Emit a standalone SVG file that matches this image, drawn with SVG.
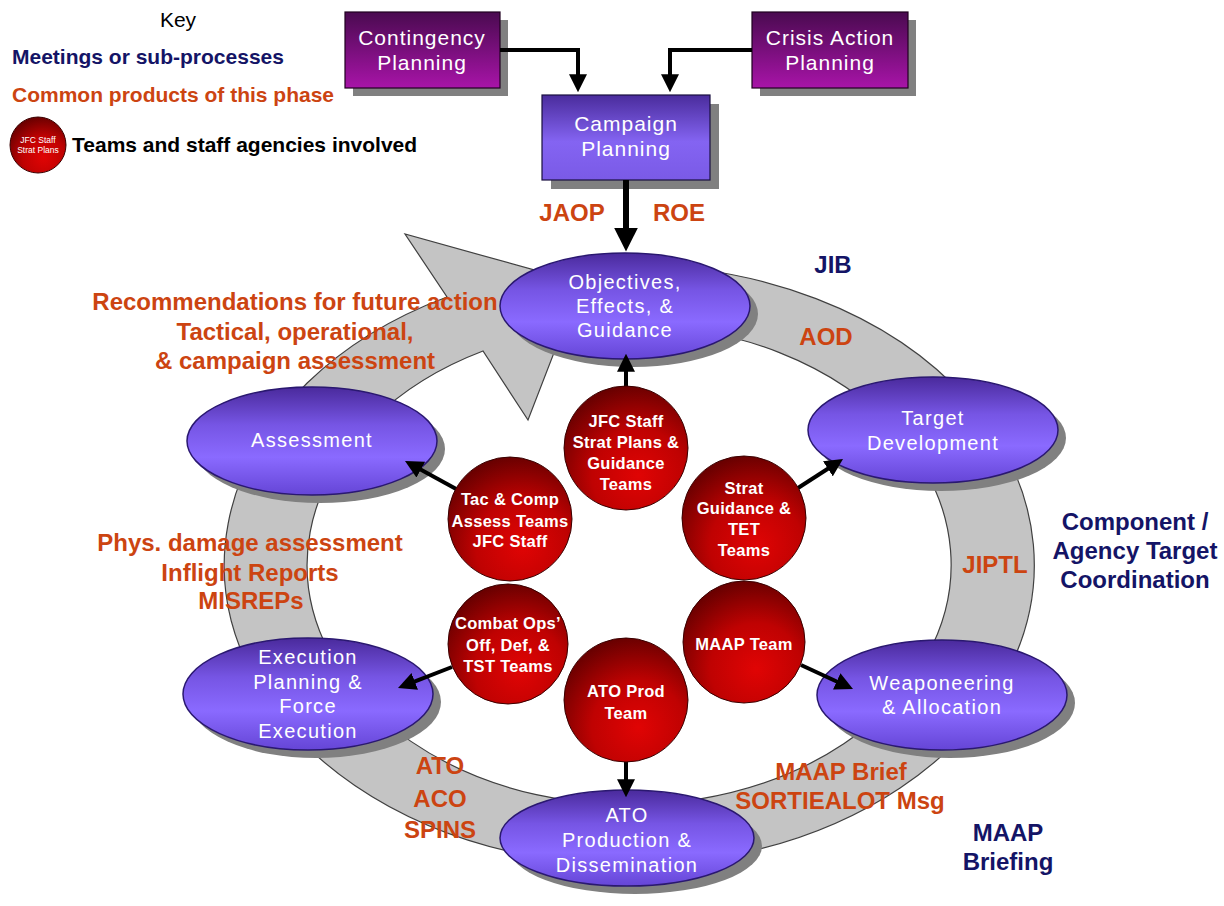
<svg xmlns="http://www.w3.org/2000/svg" width="1224" height="906" viewBox="0 0 1224 906">
<defs>
<linearGradient id="gEll" x1="0" y1="0" x2="0" y2="1">
<stop offset="0" stop-color="#4a2a9c"/><stop offset="0.35" stop-color="#7655e4"/><stop offset="0.65" stop-color="#8a6aff"/><stop offset="1" stop-color="#6545d6"/>
</linearGradient>
<linearGradient id="gMag" x1="0" y1="0" x2="0" y2="1">
<stop offset="0" stop-color="#4a0a50"/><stop offset="1" stop-color="#a814a8"/>
</linearGradient>
<linearGradient id="gCamp" x1="0" y1="0" x2="0" y2="1">
<stop offset="0" stop-color="#4a2c9c"/><stop offset="0.55" stop-color="#8464f2"/><stop offset="1" stop-color="#7a5ae6"/>
</linearGradient>
<radialGradient id="gRed" cx="0.6" cy="0.72" r="0.75">
<stop offset="0" stop-color="#e00404"/><stop offset="0.5" stop-color="#bf0202"/><stop offset="1" stop-color="#640000"/>
</radialGradient>
<marker id="ah" viewBox="0 0 10 10" refX="1" refY="5" markerWidth="4.5" markerHeight="4.5" orient="auto" markerUnits="strokeWidth">
<path d="M0,0 L10,5 L0,10 z" fill="#000"/>
</marker>
<marker id="ahb" viewBox="0 0 10 10" refX="1" refY="5" markerWidth="4" markerHeight="4" orient="auto" markerUnits="strokeWidth">
<path d="M0,0 L10,5 L0,10 z" fill="#000"/>
</marker>
<style>
.ell{fill:url(#gEll);stroke:#2a1870;stroke-width:1.5}
.shd{fill:#808080}
.red{fill:url(#gRed);stroke:#3a0000;stroke-width:1}
.et{font-family:"Liberation Sans",Arial,sans-serif;font-size:20px;letter-spacing:1.3px;fill:#fff;text-anchor:middle}
.rt{font-family:"Liberation Sans",Arial,sans-serif;font-size:21px;letter-spacing:1px;fill:#fff;text-anchor:middle}
.ct{font-family:"Liberation Sans",Arial,sans-serif;font-size:16.5px;font-weight:bold;letter-spacing:0.3px;fill:#fff;text-anchor:middle}
.lbl{font-family:"Liberation Sans",Arial,sans-serif;font-size:24px;font-weight:bold;text-anchor:middle}
.org{fill:#cc4411}
.nav{fill:#141466}
.key{font-family:"Liberation Sans",Arial,sans-serif;font-size:21px;font-weight:bold}
.conn{fill:none;stroke:#000;stroke-width:4}
</style>
</defs>
<rect width="1224" height="906" fill="#fff"/>

<g id="cycle-arrow">
<path d="M 447 297 A 405 300 0 1 0 640 265 L 640 325 A 322 240 0 1 1 483 351 L 528 420 L 581 283 L 405 234 Z" fill="#c4c4c4" stroke="#404040" stroke-width="1.2"/>
</g>

<g id="key">
<text x="178" y="27" font-family="'Liberation Sans',Arial,sans-serif" font-size="21" text-anchor="middle" fill="#000">Key</text>
<text class="key nav" x="12" y="64">Meetings or sub-processes</text>
<text class="key org" x="12" y="102">Common products of this phase</text>
<circle class="red" cx="38" cy="145" r="28"/>
<text x="38" y="143" font-family="'Liberation Sans',Arial,sans-serif" font-size="8.5" fill="#fff" text-anchor="middle">JFC Staff</text>
<text x="38" y="153" font-family="'Liberation Sans',Arial,sans-serif" font-size="8.5" fill="#fff" text-anchor="middle">Strat Plans</text>
<text class="key" x="72" y="152" fill="#000">Teams and staff agencies involved</text>
</g>

<g id="contingency-planning">
<rect x="353" y="20" width="155" height="76" class="shd"/>
<rect x="345" y="12" width="155" height="76" fill="url(#gMag)" stroke="#200020" stroke-width="1.2"/>
<text class="rt" x="422" y="45">Contingency</text>
<text class="rt" x="422" y="70">Planning</text>
</g>
<g id="crisis-action-planning">
<rect x="760" y="20" width="156" height="76" class="shd"/>
<rect x="752" y="12" width="156" height="76" fill="url(#gMag)" stroke="#200020" stroke-width="1.2"/>
<text class="rt" x="830" y="45">Crisis Action</text>
<text class="rt" x="830" y="70">Planning</text>
</g>
<g id="campaign-planning">
<rect x="551" y="104" width="168" height="85" class="shd"/>
<rect x="542" y="95" width="168" height="85" fill="url(#gCamp)" stroke="#1a1040" stroke-width="1.2"/>
<text class="rt" x="626" y="131">Campaign</text>
<text class="rt" x="626" y="156">Planning</text>
</g>

<g id="objectives">
<ellipse class="shd" cx="633" cy="314" rx="125" ry="53"/>
<ellipse class="ell" cx="625" cy="306" rx="125" ry="53"/>
<text class="et" x="625" y="289">Objectives,</text>
<text class="et" x="625" y="313">Effects, &amp;</text>
<text class="et" x="625" y="337">Guidance</text>
</g>
<g id="target-development">
<ellipse class="shd" cx="941" cy="438" rx="125" ry="53"/>
<ellipse class="ell" cx="933" cy="430" rx="125" ry="53"/>
<text class="et" x="933" y="425">Target</text>
<text class="et" x="933" y="450">Development</text>
</g>
<g id="weaponeering">
<ellipse class="shd" cx="950" cy="703" rx="125" ry="55"/>
<ellipse class="ell" cx="942" cy="695" rx="125" ry="55"/>
<text class="et" x="942" y="690">Weaponeering</text>
<text class="et" x="942" y="714">&amp; Allocation</text>
</g>
<g id="ato-production">
<ellipse class="shd" cx="635" cy="846" rx="127" ry="48"/>
<ellipse class="ell" cx="627" cy="838" rx="127" ry="48"/>
<text class="et" x="627" y="822">ATO</text>
<text class="et" x="627" y="847">Production &amp;</text>
<text class="et" x="627" y="872">Dissemination</text>
</g>
<g id="execution">
<ellipse class="shd" cx="316" cy="702" rx="125" ry="56"/>
<ellipse class="ell" cx="308" cy="694" rx="125" ry="56"/>
<text class="et" x="308" y="664">Execution</text>
<text class="et" x="308" y="689">Planning &amp;</text>
<text class="et" x="308" y="713">Force</text>
<text class="et" x="308" y="738">Execution</text>
</g>
<g id="assessment">
<ellipse class="shd" cx="320" cy="449" rx="125" ry="54"/>
<ellipse class="ell" cx="312" cy="441" rx="125" ry="54"/>
<text class="et" x="312" y="447">Assessment</text>
</g>

<g id="connectors">
<path class="conn" d="M 500 50 H 578 V 76" marker-end="url(#ah)"/>
<path class="conn" d="M 752 50 H 670 V 76" marker-end="url(#ah)"/>
<path d="M 626 180 V 230" fill="none" stroke="#000" stroke-width="6" marker-end="url(#ahb)"/>
<path class="conn" d="M 626 392 V 370" marker-end="url(#ah)"/>
<path class="conn" d="M 458 490 L 419.2 468.8" marker-end="url(#ah)"/>
<path class="conn" d="M 798 488 L 829.4 467.8" marker-end="url(#ah)"/>
<path class="conn" d="M 452 667 L 413.1 682.1" marker-end="url(#ah)"/>
<path class="conn" d="M 801 665 L 838.3 682.2" marker-end="url(#ah)"/>
<path class="conn" d="M 626 760 V 781" marker-end="url(#ah)"/>
</g>

<g id="jfc-staff">
<circle class="red" cx="626" cy="448" r="62"/>
<text class="ct" x="626" y="427">JFC Staff</text>
<text class="ct" x="626" y="448">Strat Plans &amp;</text>
<text class="ct" x="626" y="469">Guidance</text>
<text class="ct" x="626" y="490">Teams</text>
</g>
<g id="tac-comp">
<circle class="red" cx="510" cy="519" r="62"/>
<text class="ct" x="510" y="505">Tac &amp; Comp</text>
<text class="ct" x="510" y="527">Assess Teams</text>
<text class="ct" x="510" y="547">JFC Staff</text>
</g>
<g id="strat-guidance">
<circle class="red" cx="744" cy="518" r="62"/>
<text class="ct" x="744" y="494">Strat</text>
<text class="ct" x="744" y="514">Guidance &amp;</text>
<text class="ct" x="744" y="535">TET</text>
<text class="ct" x="744" y="556">Teams</text>
</g>
<g id="combat-ops">
<circle class="red" cx="508" cy="644" r="60"/>
<text class="ct" x="508" y="629">Combat Ops’</text>
<text class="ct" x="508" y="651">Off, Def, &amp;</text>
<text class="ct" x="508" y="672">TST Teams</text>
</g>
<g id="maap-team">
<circle class="red" cx="744" cy="642" r="61"/>
<text class="ct" x="744" y="650">MAAP Team</text>
</g>
<g id="ato-prod-team">
<circle class="red" cx="626" cy="700" r="62"/>
<text class="ct" x="626" y="697">ATO Prod</text>
<text class="ct" x="626" y="719">Team</text>
</g>

<g id="labels">
<text class="lbl org" x="572" y="221">JAOP</text>
<text class="lbl org" x="679" y="221">ROE</text>
<text class="lbl nav" x="833" y="273">JIB</text>
<text class="lbl org" x="826" y="345">AOD</text>
<text class="lbl org" x="295" y="310">Recommendations for future action</text>
<text class="lbl org" x="295" y="340">Tactical, operational,</text>
<text class="lbl org" x="295" y="369">&amp; campaign assessment</text>
<text class="lbl org" x="250" y="551">Phys. damage assessment</text>
<text class="lbl org" x="250" y="581">Inflight Reports</text>
<text class="lbl org" x="251" y="609">MISREPs</text>
<text class="lbl org" x="995" y="573">JIPTL</text>
<text class="lbl nav" x="1135" y="530">Component /</text>
<text class="lbl nav" x="1135" y="559">Agency Target</text>
<text class="lbl nav" x="1135" y="588">Coordination</text>
<text class="lbl org" x="440" y="774">ATO</text>
<text class="lbl org" x="440" y="807">ACO</text>
<text class="lbl org" x="440" y="838">SPINS</text>
<text class="lbl org" x="841" y="780">MAAP Brief</text>
<text class="lbl org" x="840" y="809">SORTIEALOT Msg</text>
<text class="lbl nav" x="1008" y="841">MAAP</text>
<text class="lbl nav" x="1008" y="870">Briefing</text>
</g>
</svg>
